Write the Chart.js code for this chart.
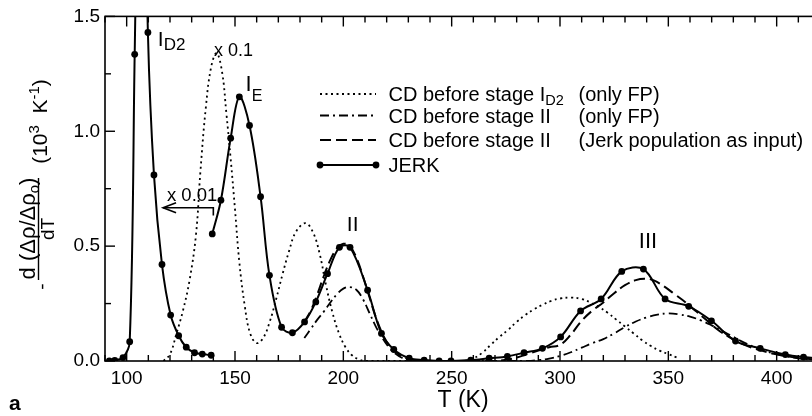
<!DOCTYPE html>
<html><head><meta charset="utf-8">
<script src="https://cdn.jsdelivr.net/npm/chart.js@4.4.1/dist/chart.umd.min.js"></script>
<style>
html,body{margin:0;padding:0;background:#fff;overflow:hidden;width:812px;height:416px}
#wrap{position:absolute;left:0;top:0;width:830px;height:416px}
canvas{width:830px;height:416px}
</style></head>
<body><div id="wrap"><canvas id="c" width="830" height="416"></canvas></div>
<script>
// ---- data ----
const jerkT1 = [92, 94.5, 98.3, 101.4, 103.7, 106.7, 109.8, 112.6, 116.3, 120.3, 124, 127.5, 131.3, 134.9, 139];
const jerkV1 = [0.0, 0.003, 0.015, 0.084, 1.335, 3.0, 1.43, 0.81, 0.42, 0.20, 0.11, 0.06, 0.036, 0.03, 0.025];
const jerkT2 = [139.5, 143.5, 148, 152, 156.7, 161.8, 165.9, 171.5, 176.5, 182.1, 187.3, 192.7, 198.2, 203.1, 211.2, 217.6, 223.3, 230.4, 237.3, 244.2, 249.7, 258.8, 267.3, 275.7, 283.4, 291.9, 300.3, 309.5, 319, 328.5, 338.5, 348.5, 359.4, 369.9, 381, 392.4, 404, 412.4, 421];
const jerkV2 = [0.553, 0.70, 0.97, 1.15, 1.025, 0.715, 0.373, 0.147, 0.123, 0.17, 0.257, 0.38, 0.495, 0.495, 0.308, 0.12, 0.05, 0.012, 0.004, 0, 0, 0.004, 0.012, 0.02, 0.036, 0.055, 0.105, 0.218, 0.27, 0.39, 0.40, 0.27, 0.238, 0.175, 0.087, 0.055, 0.028, 0.017, 0.01];

const dotT = [117, 120, 123, 126, 129, 132, 134, 136.5, 139, 141.5, 144, 146, 148, 150, 152, 154.5, 157, 160, 163, 166, 169, 172, 175, 178, 182.5, 186, 189, 192, 195, 198, 201, 204, 207, 210, 255, 260, 264, 268, 272, 276, 280, 284, 288, 292, 296, 300, 305, 310, 314, 318, 322, 326, 330, 334, 338, 342, 346, 350, 354];
const dotV = [0.0, 0.03, 0.12, 0.22, 0.35, 0.55, 0.82, 1.10, 1.28, 1.34, 1.26, 1.08, 0.88, 0.66, 0.43, 0.24, 0.12, 0.078, 0.10, 0.17, 0.27, 0.38, 0.48, 0.56, 0.60, 0.56, 0.47, 0.33, 0.21, 0.12, 0.06, 0.025, 0.008, 0.0, 0.0, 0.012, 0.035, 0.07, 0.105, 0.135, 0.17, 0.20, 0.225, 0.245, 0.262, 0.272, 0.276, 0.27, 0.255, 0.235, 0.21, 0.18, 0.15, 0.12, 0.09, 0.065, 0.045, 0.03, 0.015];

const dashDotT = [182, 185, 188, 191, 194, 197, 200, 203, 206, 209, 212, 215, 218, 221, 224, 227, 230, 234, 285, 290, 295, 300, 305, 310, 315, 320, 325, 330, 335, 340, 345, 350, 355, 360, 365, 370, 375, 380, 385, 390, 395, 400, 405, 410, 415, 421];
const dashDotV = [0.10, 0.14, 0.18, 0.215, 0.255, 0.29, 0.315, 0.322, 0.31, 0.27, 0.21, 0.15, 0.10, 0.06, 0.032, 0.014, 0.004, 0.0, 0.0, 0.004, 0.01, 0.022, 0.038, 0.058, 0.078, 0.095, 0.12, 0.148, 0.172, 0.19, 0.202, 0.207, 0.203, 0.193, 0.177, 0.155, 0.13, 0.105, 0.08, 0.06, 0.043, 0.03, 0.02, 0.012, 0.007, 0.004];

const dashT = [182, 185, 188, 191, 194, 197, 200, 203, 206, 209, 212, 215, 218, 221, 224, 227, 230, 235, 240, 270, 275, 280, 285, 290, 295, 300, 305, 310, 315, 320, 325, 330, 335, 339, 343, 348, 353, 358, 363, 368, 373, 378, 383, 388, 393, 398, 403, 410, 415, 421];
const dashV = [0.17, 0.22, 0.29, 0.37, 0.44, 0.49, 0.51, 0.50, 0.45, 0.37, 0.28, 0.19, 0.12, 0.07, 0.04, 0.02, 0.01, 0.002, 0.0, 0.0, 0.005, 0.015, 0.03, 0.045, 0.06, 0.07, 0.115, 0.175, 0.22, 0.255, 0.295, 0.33, 0.352, 0.358, 0.352, 0.325, 0.29, 0.255, 0.215, 0.175, 0.135, 0.105, 0.08, 0.06, 0.045, 0.033, 0.023, 0.014, 0.009, 0.006];

const xTickLabels = [100, 150, 200, 250, 300, 350, 400];
const yTickLabels = ['0.0', '0.5', '1.0', '1.5'];
const legendLabels = ['CD before stage I', 'CD before stage II', 'CD before stage II', 'JERK'];

// ---- helpers ----
const FF = '"Liberation Sans", Arial, Helvetica, sans-serif';
const fnt = (s, b) => (b ? 'bold ' : '') + s + 'px ' + FF;
const pts = (T, V) => T.map((t, i) => ({x: t, y: V[i]}));
function rich(ctx, parts, x, y, align) {
  let tot = 0;
  parts.forEach(p => { ctx.font = fnt(p.s); p.w = ctx.measureText(p.t).width; tot += p.w; });
  let u = align === 'center' ? x - tot / 2 : x;
  parts.forEach(p => { ctx.font = fnt(p.s); ctx.fillText(p.t, u, y + (p.dy || 0)); u += p.w; });
}
const DOT = [2, 3.5], DASHDOT = [9, 4, 2, 4], DASH = [11, 5];

const jerkData = pts(jerkT1, jerkV1).concat([{x: 139.25, y: null}], pts(jerkT2, jerkV2));

const deco = {
  id: 'deco',
  afterDatasetsDraw(chart) {
    const ctx = chart.ctx, xs = chart.scales.x, ys = chart.scales.y, a = chart.chartArea;
    const px = v => xs.getPixelForValue(v), py = v => ys.getPixelForValue(v);
    ctx.save();
    ctx.fillStyle = '#000'; ctx.strokeStyle = '#000';
    // frame
    ctx.lineWidth = 1.6; ctx.setLineDash([]);
    ctx.strokeRect(a.left, a.top, a.right - a.left, a.bottom - a.top);
    // inward ticks
    ctx.lineWidth = 1.4;
    xs.ticks.forEach(t => {
      const x = px(t.value), L = (Math.round(t.value) % 50 === 0) ? 10 : 6;
      ctx.beginPath(); ctx.moveTo(x, a.bottom); ctx.lineTo(x, a.bottom - L);
      ctx.moveTo(x, a.top); ctx.lineTo(x, a.top + L); ctx.stroke();
    });
    ys.ticks.forEach(t => {
      const y = py(t.value), maj = Math.abs(t.value * 2 - Math.round(t.value * 2)) < 1e-6, L = maj ? 10 : 6;
      ctx.beginPath(); ctx.moveTo(a.left, y); ctx.lineTo(a.left + L, y); ctx.stroke();
    });
    // annotations
    ctx.textAlign = 'left'; ctx.textBaseline = 'alphabetic';
    rich(ctx, [{t: 'I', s: 21}, {t: 'D2', s: 17, dy: 4}], px(114.4), py(1.371), 'left');
    rich(ctx, [{t: 'x 0.1', s: 18}], px(140.3), py(1.327), 'left');
    rich(ctx, [{t: 'I', s: 22}, {t: 'E', s: 16, dy: 10}], px(154.9), py(1.176), 'left');
    rich(ctx, [{t: 'x 0.01', s: 18.5}], px(118.6), py(0.698), 'left');
    rich(ctx, [{t: 'II', s: 21}], px(204.3), py(0.564), 'center');
    rich(ctx, [{t: 'III', s: 22}], px(340.6), py(0.494), 'center');
    // arrow
    ctx.lineWidth = 1.6;
    const ax0 = px(140), ax1 = px(116.8), ay = py(0.667);
    ctx.beginPath(); ctx.moveTo(ax0, py(0.633)); ctx.lineTo(ax0, ay); ctx.lineTo(ax1, ay); ctx.stroke();
    ctx.beginPath(); ctx.moveTo(ax1 + 13, ay - 5); ctx.lineTo(ax1, ay); ctx.lineTo(ax1 + 13, ay + 5); ctx.stroke();
    ctx.restore();
  },
  afterDraw(chart) {
    const ctx = chart.ctx;
    ctx.save();
    ctx.fillStyle = '#000'; ctx.strokeStyle = '#000';
    ctx.textAlign = 'left'; ctx.textBaseline = 'alphabetic';
    // legend
    const rows = [94, 115.5, 140, 165], dashes = [DOT, DASHDOT, DASH, []];
    const LS = 20, C2 = 578.5;
    rows.forEach((y, i) => {
      ctx.setLineDash(dashes[i]); ctx.lineWidth = i === 0 ? 1.8 : 2;
      ctx.beginPath(); ctx.moveTo(320, y); ctx.lineTo(376, y); ctx.stroke();
      ctx.setLineDash([]);
      if (i === 3) { [320, 376].forEach(x => { ctx.beginPath(); ctx.arc(x, y, 3.4, 0, 2 * Math.PI); ctx.fill(); }); }
      const by = y + 7;
      if (i === 0) { rich(ctx, [{t: legendLabels[0], s: LS}, {t: 'D2', s: 14.5, dy: 4}], 388.5, by, 'left'); rich(ctx, [{t: '(only FP)', s: LS}], C2, by, 'left'); }
      else if (i === 1) { rich(ctx, [{t: legendLabels[1], s: LS}], 388.5, by, 'left'); rich(ctx, [{t: '(only FP)', s: LS}], C2, by, 'left'); }
      else if (i === 2) { rich(ctx, [{t: legendLabels[2], s: LS}], 388.5, by, 'left'); rich(ctx, [{t: '(Jerk population as input)', s: LS}], C2, by, 'left'); }
      else rich(ctx, [{t: legendLabels[3], s: LS}], 388.5, by, 'left');
    });
    // x title
    rich(ctx, [{t: 'T (K)', s: 23}], 463, 406.5, 'center');
    // panel letter
    ctx.font = fnt(21, true); ctx.fillText('a', 9, 410);
    // y title (rotated)
    const rot = (x, y, parts) => { ctx.save(); ctx.translate(x, y); ctx.rotate(-Math.PI / 2); rich(ctx, parts, 0, 0, 'center'); ctx.restore(); };
    rot(35, 228.5, [{t: 'd (Δρ/Δρ', s: 22}, {t: 'o', s: 15, dy: 4}, {t: ')', s: 22}]);
    rot(54, 229, [{t: 'dT', s: 19}]);
    rot(47, 121.5, [{t: '(10', s: 21}, {t: '3', s: 15, dy: -8}, {t: '  K', s: 21}, {t: '-1', s: 15, dy: -8}, {t: ')', s: 21}]);
    rot(48, 286.5, [{t: '-', s: 19}]);
    ctx.lineWidth = 1.4; ctx.beginPath(); ctx.moveTo(38.5, 178); ctx.lineTo(38.5, 280); ctx.stroke();
    ctx.restore();
  }
};

new Chart(document.getElementById('c'), {
  type: 'line',
  data: {
    datasets: [
      {label: 'JERK', data: jerkData, borderColor: '#000', backgroundColor: '#000', borderWidth: 2,
       pointRadius: 3.4, pointBackgroundColor: '#000', pointBorderWidth: 0, tension: 0.35, spanGaps: false},
      {label: 'CD before stage II (Jerk population as input)', data: pts(dashT, dashV), borderColor: '#000', borderWidth: 2,
       borderDash: DASH, pointRadius: 0, tension: 0.4},
      {label: 'CD before stage II (only FP)', data: pts(dashDotT, dashDotV), borderColor: '#000', borderWidth: 1.8,
       borderDash: DASHDOT, pointRadius: 0, tension: 0.4},
      {label: 'CD before stage ID2 (only FP)', data: pts(dotT, dotV), borderColor: '#000', borderWidth: 1.8,
       borderDash: DOT, pointRadius: 0, tension: 0.4}
    ]
  },
  options: {
    responsive: false, animation: false, devicePixelRatio: 1,
    layout: {padding: {left: 0, top: 15, right: 10, bottom: 0}},
    plugins: {legend: {display: false}, tooltip: {enabled: false}},
    scales: {
      x: {type: 'linear', min: 90, max: 420,
          grid: {display: false, drawTicks: false, tickLength: 0}, border: {display: false},
          afterFit: s => { s.height = 55; },
          ticks: {stepSize: 10, autoSkip: false, maxRotation: 0, padding: 6, color: '#000', font: {family: FF, size: 19},
                  callback: v => xTickLabels.includes(Math.round(v)) && Math.abs(v - Math.round(v)) < 1e-6 ? String(Math.round(v)) : ''}},
      y: {type: 'linear', min: 0, max: 1.5,
          grid: {display: false, drawTicks: false, tickLength: 0}, border: {display: false},
          afterFit: s => { s.width = 105; },
          ticks: {stepSize: 0.25, autoSkip: false, padding: 5, color: '#000', font: {family: FF, size: 19},
                  callback: v => { const s = v.toFixed(1); return (Math.abs(v * 2 - Math.round(v * 2)) < 1e-6 && yTickLabels.includes(s)) ? s : ''; }}}
    }
  },
  plugins: [deco]
});
</script>
</body></html>
